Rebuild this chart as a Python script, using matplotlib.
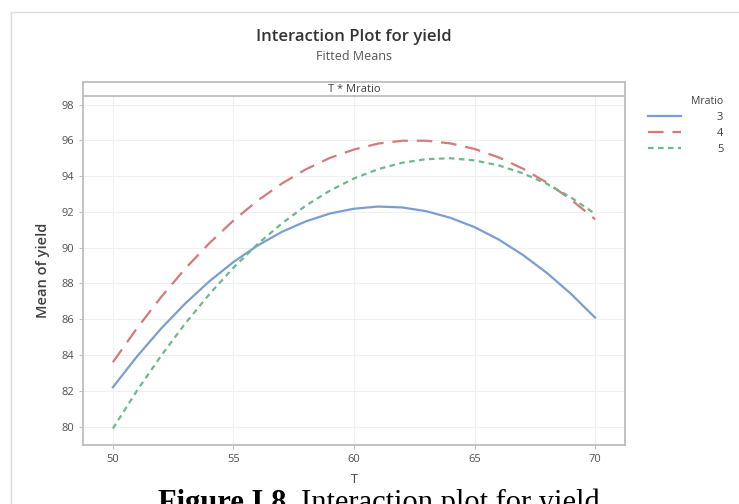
import matplotlib
matplotlib.use("Agg")
import matplotlib.pyplot as plt
from matplotlib.lines import Line2D

# fitted means
T = [50, 51, 52, 53, 54, 55, 56, 57, 58, 59, 60,
     61, 62, 63, 64, 65, 66, 67, 68, 69, 70]
mratio_3 = [82.20, 83.92, 85.48, 86.88, 88.12, 89.20, 90.12, 90.88, 91.47, 91.91, 92.18,
            92.30, 92.25, 92.04, 91.67, 91.15, 90.46, 89.60, 88.59, 87.42, 86.09]
mratio_4 = [83.60, 85.50, 87.24, 88.83, 90.25, 91.52, 92.63, 93.58, 94.38, 95.02, 95.49,
            95.82, 95.98, 95.98, 95.83, 95.52, 95.05, 94.42, 93.64, 92.69, 91.59]
mratio_5 = [79.89, 82.01, 83.96, 85.76, 87.40, 88.88, 90.20, 91.35, 92.35, 93.19, 93.87,
            94.39, 94.75, 94.95, 95.00, 94.88, 94.60, 94.16, 93.57, 92.81, 91.89]
series_labels = ["3", "4", "5"]
x_ticks = [50, 55, 60, 65, 70]
y_ticks = [80, 82, 84, 86, 88, 90, 92, 94, 96, 98]

plt.rcParams['font.family'] = ['Open Sans', 'DejaVu Sans']

W, H = 739, 504
fig = plt.figure(figsize=(W / 100, H / 100), dpi=100)

def box(l, t, r, b):
    return [l / W, 1 - b / H, (r - l) / W, (b - t) / H]

# faint border of the screenshot
fig.add_artist(Line2D([11 / W, 11 / W], [0, 1 - 12 / H], transform=fig.transFigure,
                      color='#dcdcdc', lw=1))
fig.add_artist(Line2D([11 / W, 1], [1 - 12 / H, 1 - 12 / H], transform=fig.transFigure,
                      color='#dcdcdc', lw=1))

ax = fig.add_axes(box(83, 96, 625, 445))
colors = ['#7a9fcf', '#d47a7c', '#6cb98a']
ax.plot(T, mratio_3, color=colors[0], lw=1.6, ls='-', label=series_labels[0])
ax.plot(T, mratio_4, color=colors[1], lw=1.6, ls=(0, (7, 4)), label=series_labels[1])
ax.plot(T, mratio_5, color=colors[2], lw=1.6, ls=(0, (2.5, 2)), label=series_labels[2])

ax.set_xlim(48.76, 71.24)
ax.set_ylim(78.97, 98.48)
ax.set_xticks(x_ticks)
ax.set_yticks(y_ticks)
ax.grid(True, color='#f0f0f0', lw=0.8)
ax.set_axisbelow(True)
for s in ax.spines.values():
    s.set_color('#bdbdbd')
    s.set_linewidth(1.3)
ax.spines['top'].set_visible(False)
ax.tick_params(colors='#bdbdbd', labelcolor='#505050', labelsize=8, length=3, width=0.8)
ax.set_xlabel("T", fontsize=9, color='#404040', labelpad=6)
ax.set_ylabel("Mean of yield", fontsize=10.5, color='#404040', fontweight='semibold', labelpad=8)

# panel strip
strip = fig.add_axes(box(83, 82, 625, 96))
strip.set_xticks([])
strip.set_yticks([])
for s in strip.spines.values():
    s.set_color('#bdbdbd')
    s.set_linewidth(1.3)
strip.text(0.5, 0.5, "T * Mratio", ha='center', va='center', fontsize=8, color='#404040',
           transform=strip.transAxes)

fig.text(354 / W, 1 - 37 / H, "Interaction Plot for yield", ha='center', va='center',
         fontsize=12, color='#333333', fontweight='semibold')
fig.text(354 / W, 1 - 56 / H, "Fitted Means", ha='center', va='center',
         fontsize=9, color='#555555')

leg = fig.legend(frameon=False, title="Mratio", loc='upper left',
                 bbox_to_anchor=(638 / W, 1 - 86 / H), fontsize=8,
                 title_fontsize=7.5, handlelength=3.0, handletextpad=3.2,
                 labelspacing=0.45, alignment='right')
for t in leg.get_texts():
    t.set_color('#404040')
leg.get_title().set_color('#404040')

# figure caption below the chart, partly cut by the image edge as in the source
fig.text(158 / W, 1 - 511 / H, "Figure I.8.", ha='left', va='baseline', fontsize=22,
         family='Liberation Serif', fontweight='bold', color='black')
fig.text(301 / W, 1 - 511 / H, "Interaction plot for yield", ha='left', va='baseline',
         fontsize=22, family='Liberation Serif', color='black')

fig.savefig("out.png", dpi=100, facecolor='white')
